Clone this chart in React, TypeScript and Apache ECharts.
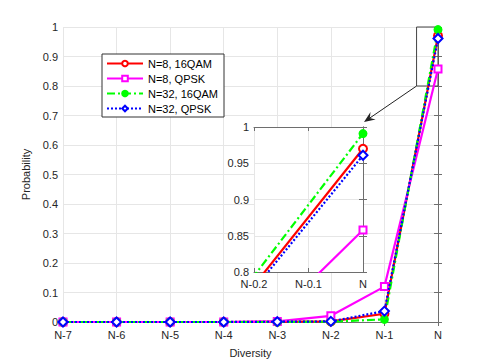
import React, { useEffect, useRef } from "react";
import * as echarts from "echarts";

const xs = [-7, -6, -5, -4, -3, -2, -1, 0];
const seriesNames = ["N=8, 16QAM", "N=8, QPSK", "N=32, 16QAM", "N=32, QPSK"];
const n8_16qam = [0, 0, 0, 0, 0.001, 0.002, 0.028, 0.97];
const n8_qpsk = [0, 0, 0, 0, 0.002, 0.021, 0.12, 0.858];
const n32_16qam = [0, 0, 0, 0, 0, 0.001, 0.009, 0.991];
const n32_qpsk = [0, 0, 0, 0, 0.001, 0.002, 0.037, 0.961];
const mainYTicks = { min: 0, max: 1, interval: 0.1 };
const insetX = { min: -0.2, max: 0, interval: 0.1 };
const insetY = { min: 0.8, max: 1, interval: 0.05 };
const zoomBox = [[-0.4, 0.8], [0, 1]];

const FONT = "'Liberation Sans', Arial, Helvetica, sans-serif";
const AX = "#6e6e6e";
const TXT = "#262626";

const fmtN = (v: number) => {
  const r = +v.toFixed(2);
  return Math.abs(r) < 1e-9 ? "N" : "N" + r;
};
const fmtNum = (v: number) => String(+v.toFixed(2));

export default function App() {
  const ref = useRef<HTMLDivElement>(null);
  useEffect(() => {
    if (!ref.current) return;
    const chart = echarts.init(ref.current, undefined, { renderer: "svg" });
    const vals = [n8_16qam, n8_qpsk, n32_16qam, n32_qpsk];
    const styles = [
      { color: "#ff0000", symbol: "emptyCircle", size: 8, type: "solid" as any },
      { color: "#ff00ff", symbol: "emptyRect", size: 7, type: "solid" as any },
      { color: "#00ff00", symbol: "circle", size: 7, type: [8, 3, 2, 3] as any },
      { color: "#0000ff", symbol: "emptyDiamond", size: 9, type: [2, 2] as any },
    ];
    const mkData = (arr: number[]) => xs.map((x, i) => [x, arr[i]]);
    const series: any[] = [];
    vals.forEach((arr, k) => {
      const s = styles[k];
      series.push({
        name: seriesNames[k],
        type: "line",
        xAxisIndex: 0,
        yAxisIndex: 0,
        data: mkData(arr),
        symbol: s.symbol,
        symbolSize: s.size,
        lineStyle: { color: s.color, width: 2.2, type: s.type },
        itemStyle: { color: s.color, borderColor: s.color, borderWidth: 2 },
        z: 2 + k,
        markArea:
          k === 0
            ? {
                silent: true,
                itemStyle: { color: "rgba(0,0,0,0)", borderColor: "#444", borderWidth: 1 },
                data: [[{ coord: zoomBox[0] }, { coord: zoomBox[1] }]],
              }
            : undefined,
      });
    });
    vals.forEach((arr, k) => {
      const s = styles[k];
      series.push({
        name: seriesNames[k],
        type: "line",
        xAxisIndex: 2,
        yAxisIndex: 2,
        data: mkData(arr),
        clip: true,
        symbol: s.symbol,
        symbolSize: s.size,
        lineStyle: { color: s.color, width: 2.2, type: s.type },
        itemStyle: { color: s.color, borderColor: s.color, borderWidth: 2 },
        z: 12 + k,
      });
    });

    const axisCommon = {
      axisLine: { show: true, lineStyle: { color: AX, width: 1 } },
      axisTick: { show: true, inside: true, length: 4, lineStyle: { color: AX } },
      axisLabel: { color: TXT, fontFamily: FONT, fontSize: 11 },
    };
    const hidden = {
      axisLine: { show: true, lineStyle: { color: AX, width: 1 } },
      axisTick: { show: true, inside: true, length: 4, lineStyle: { color: AX } },
      axisLabel: { show: false },
      splitLine: { show: false },
    };
    const split = { show: true, lineStyle: { color: "#e6e6e6", width: 1 } };

    chart.setOption({
      animation: false,
      backgroundColor: "#fff",
      textStyle: { fontFamily: FONT },
      grid: [
        { left: 63, right: 47, top: 27, bottom: 40, containLabel: false },
        {
          left: 254, right: 122, top: 127, bottom: 91, containLabel: false,
          show: true, backgroundColor: "#fff", borderWidth: 0, z: 8,
        },
      ],
      legend: {
        data: seriesNames,
        orient: "vertical",
        left: 102,
        top: 54,
        itemWidth: 36,
        itemHeight: 7,
        itemGap: 4,
        padding: [4, 6, 3, 4],
        backgroundColor: "#fff",
        borderColor: "#333",
        borderWidth: 1,
        borderRadius: 0,
        textStyle: { fontFamily: FONT, fontSize: 11, color: "#000" },
        z: 20,
      },
      xAxis: [
        {
          type: "value", gridIndex: 0, position: "bottom",
          min: xs[0], max: xs[xs.length - 1], interval: 1,
          name: "Diversity", nameLocation: "middle", nameGap: 25,
          nameTextStyle: { color: TXT, fontFamily: FONT, fontSize: 11 },
          ...axisCommon,
          axisLabel: { ...axisCommon.axisLabel, margin: 7, formatter: fmtN },
          splitLine: split,
        },
        {
          type: "value", gridIndex: 0, position: "top",
          min: xs[0], max: xs[xs.length - 1], interval: 1, ...hidden,
        },
        {
          type: "value", gridIndex: 1, position: "bottom",
          min: insetX.min, max: insetX.max, interval: insetX.interval, z: 9,
          ...axisCommon,
          axisLabel: { ...axisCommon.axisLabel, margin: 6, formatter: fmtN },
          splitLine: split,
        },
        {
          type: "value", gridIndex: 1, position: "top", z: 9,
          min: insetX.min, max: insetX.max, interval: insetX.interval, ...hidden,
        },
      ],
      yAxis: [
        {
          type: "value", gridIndex: 0, position: "left",
          min: mainYTicks.min, max: mainYTicks.max, interval: mainYTicks.interval,
          name: "Probability", nameLocation: "middle", nameGap: 30,
          nameTextStyle: { color: TXT, fontFamily: FONT, fontSize: 11 },
          ...axisCommon,
          axisLabel: { ...axisCommon.axisLabel, margin: 5, formatter: fmtNum },
          splitLine: split,
        },
        {
          type: "value", gridIndex: 0, position: "right",
          min: mainYTicks.min, max: mainYTicks.max, interval: mainYTicks.interval, ...hidden,
        },
        {
          type: "value", gridIndex: 1, position: "left", z: 9,
          min: insetY.min, max: insetY.max, interval: insetY.interval,
          ...axisCommon,
          axisLabel: { ...axisCommon.axisLabel, margin: 5, formatter: fmtNum },
          splitLine: split,
        },
        {
          type: "value", gridIndex: 1, position: "right", z: 9,
          min: insetY.min, max: insetY.max, interval: insetY.interval, ...hidden,
        },
      ],
      series,
    });

    const p1 = chart.convertToPixel({ xAxisIndex: 0, yAxisIndex: 0 } as any, zoomBox[0]) as number[];
    const p2raw = chart.convertToPixel({ xAxisIndex: 2, yAxisIndex: 2 } as any, [insetX.max, insetY.max]) as number[];
    const p2 = [p2raw[0] + 1, p2raw[1] - 5];
    const dx = p2[0] - p1[0];
    const dy = p2[1] - p1[1];
    const len = Math.sqrt(dx * dx + dy * dy);
    const ux = dx / len, uy = dy / len;
    const px = -uy, py = ux;
    const hl = 11, hw = 4.5, back = 7;
    chart.setOption({
      graphic: [
        {
          type: "line", z: 30,
          shape: { x1: p1[0], y1: p1[1], x2: p2[0] - ux * 4, y2: p2[1] - uy * 4 },
          style: { stroke: "#222", lineWidth: 1 },
        },
        {
          type: "polygon", z: 30,
          shape: {
            points: [
              [p2[0], p2[1]],
              [p2[0] - ux * hl + px * hw, p2[1] - uy * hl + py * hw],
              [p2[0] - ux * back, p2[1] - uy * back],
              [p2[0] - ux * hl - px * hw, p2[1] - uy * hl - py * hw],
            ],
          },
          style: { fill: "#222" },
        },
      ],
    });

    return () => chart.dispose();
  }, []);
  return <div ref={ref} style={{ width: 485, height: 363, position: "absolute", left: 0, top: 0 }} />;
}
